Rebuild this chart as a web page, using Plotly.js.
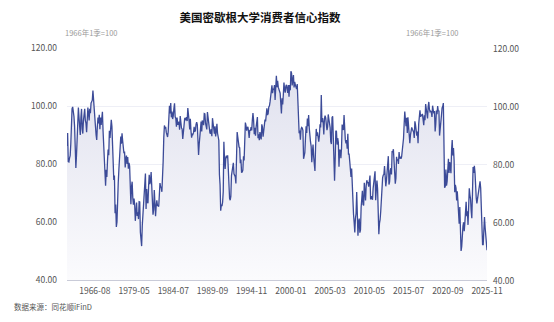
<!DOCTYPE html>
<html>
<head>
<meta charset="utf-8">
<script src="https://cdn.plot.ly/plotly-3.0.1.min.js"></script>
<style>html,body{margin:0;padding:0;background:#fff;}#chart{width:554px;height:322px;}</style>
</head>
<body>
<div id="chart"></div>
<script>
// ---- Data ----
const earlyDates = ["1952-11","1953-02","1953-08","1953-11","1954-02","1954-05","1954-11","1955-02","1955-05","1955-11",
  "1956-05","1956-11","1957-05","1957-11","1958-05","1958-11","1959-05","1959-11"];
// quarterly values 1952-11 .. 1977-11 (90 points)
const vEarly = [86.2,90.7,80.8,80.7,82.0,82.9,87.0,95.9,99.1,99.7,
  98.2,96.4,93.0,86.4,78.6,82.9,90.0,95.0,99.5,96.0,
  92.5,90.0,96.0,99.0,92.0,90.5,95.0,97.0,99.0,95.0,
  94.0,91.0,96.0,99.5,97.5,95.0,99.0,97.5,101.0,102.0,
  102.0,105.3,101.0,97.0,96.0,93.0,90.0,88.3,93.0,96.0,
  94.0,97.0,92.0,96.0,93.5,95.0,98.0,91.5,86.0,81.0,
  78.5,72.5,78.0,75.5,81.0,85.0,83.0,91.5,89.0,93.0,
  95.2,93.0,88.0,85.0,74.5,76.0,63.0,66.0,58.3,60.0,
  71.0,73.5,78.0,84.0,85.0,89.5,87.0,90.6,88.0,85.0];
const v1978_1989 = [83.7,84.3,78.8,81.6,82.9,80.0,82.4,78.4,80.4,79.3,75.0,66.1,
  72.1,73.9,68.4,66.0,68.1,65.8,60.4,64.5,66.7,62.1,63.3,61.0,
  67.0,66.9,56.5,52.7,51.7,58.7,62.3,67.3,73.7,75.0,76.7,64.5,
  71.4,66.9,66.5,72.4,76.3,73.1,74.1,77.2,73.1,70.3,62.5,64.3,
  71.0,66.5,62.0,65.5,67.5,65.7,65.4,65.4,69.3,73.4,72.1,71.9,
  70.4,74.6,80.8,89.1,93.3,92.2,92.8,90.9,89.9,89.3,91.1,94.2,
  100.1,97.4,101.0,96.1,98.1,95.5,96.6,99.1,100.9,96.3,95.7,92.9,
  96.0,93.7,93.7,94.6,91.8,96.5,94.0,92.4,92.1,88.6,90.9,93.9,
  95.6,95.9,95.1,96.2,94.8,99.3,97.7,94.9,91.9,95.6,91.4,89.1,
  90.4,90.2,90.8,92.8,91.1,91.5,93.7,94.4,93.6,89.3,83.1,86.8,
  90.8,91.6,94.6,91.2,94.8,94.7,93.4,97.4,97.3,94.1,93.0,91.9,
  97.9,95.4,94.3,91.5,90.7,90.6,92.0,89.6,95.8,93.9,90.9,90.5];
const v1990_1999 = [93.0,89.5,91.3,93.9,90.6,88.3,88.2,76.4,72.8,63.9,66.0,65.5,
  66.8,70.4,87.7,81.8,78.3,82.1,82.9,82.0,83.0,78.3,69.1,68.2,
  67.5,68.8,76.0,77.2,79.2,80.4,76.6,76.1,75.6,73.3,85.3,91.0,
  89.3,86.6,85.9,85.6,80.3,81.5,77.0,77.3,77.9,82.7,81.2,88.2,
  94.3,93.2,91.5,92.6,92.8,91.2,89.0,91.7,91.5,92.7,91.6,95.1,
  97.6,95.1,90.3,92.5,89.8,92.7,94.4,96.2,88.9,90.2,88.2,91.0,
  89.3,88.5,93.7,92.7,89.4,92.4,94.7,95.3,94.7,96.5,99.2,96.9,
  97.4,99.7,100.0,101.4,103.2,104.5,107.1,104.4,106.0,105.6,107.2,102.1,
  106.6,110.4,106.5,108.7,106.5,105.6,105.2,104.4,100.9,97.4,102.7,100.5,
  103.9,108.1,105.7,104.6,106.8,107.3,106.0,104.5,107.2,103.2,107.2,105.4];
const v2000_2009 = [112.0,111.3,107.1,109.2,110.7,106.4,108.3,107.3,106.8,105.8,107.6,98.4,
  94.7,90.6,91.5,88.4,92.0,92.6,92.4,91.5,81.8,82.7,83.9,88.8,
  93.0,90.7,95.7,93.0,96.9,92.4,88.1,87.6,86.1,80.6,84.2,86.7,
  82.4,79.9,77.6,86.0,92.1,89.7,90.9,89.3,87.7,89.6,93.7,92.6,
  103.8,94.4,95.8,94.2,90.2,95.6,96.7,95.9,94.2,91.7,92.8,97.1,
  95.5,94.1,92.6,87.7,86.9,96.0,96.5,89.1,76.9,74.2,81.6,91.5,
  91.2,86.7,88.9,87.4,79.1,84.9,84.7,82.0,85.4,93.6,92.1,91.7,
  96.9,91.3,88.4,87.1,88.3,85.3,90.4,83.4,83.4,80.9,76.1,75.5,
  78.4,70.8,69.5,62.6,59.8,56.4,61.2,63.0,70.3,57.6,55.3,60.1,
  61.2,56.3,57.3,65.1,68.7,70.8,66.0,65.7,73.5,70.6,67.4,72.5];
const v2010_2019 = [74.4,73.6,73.6,72.2,73.6,76.0,67.8,68.9,68.2,67.7,71.6,74.5,
  74.2,77.5,67.5,69.8,74.3,71.5,63.7,55.8,59.5,60.8,63.7,69.9,
  75.0,75.3,76.2,76.4,79.3,73.2,72.3,74.3,78.3,82.6,82.7,72.9,
  73.8,77.6,78.6,76.4,84.5,84.1,85.1,82.1,77.5,73.2,75.1,82.5,
  81.2,81.6,80.0,84.1,81.9,82.5,81.8,82.5,84.6,86.9,88.8,93.6,
  98.1,95.4,93.0,95.9,90.7,96.1,93.1,91.9,87.2,90.0,91.3,92.6,
  92.0,91.7,91.0,89.0,94.7,93.5,90.0,89.8,91.2,87.2,93.8,98.2,
  98.5,96.3,96.9,97.0,97.1,95.0,93.4,96.8,95.1,100.7,98.5,95.9,
  95.7,99.7,101.4,98.8,98.0,98.2,97.9,96.2,100.1,98.6,97.5,98.3,
  91.2,93.8,98.4,97.2,100.0,98.2,98.4,89.8,93.2,95.5,96.8,99.3];
const v2020_2025 = [99.8,101.0,89.1,71.8,72.3,78.1,72.5,74.1,80.4,81.8,76.9,80.7,
  79.0,76.8,84.9,88.3,82.9,85.5,81.2,70.3,72.8,71.7,67.4,70.6,
  67.2,62.8,59.4,65.2,58.4,50.0,51.5,58.2,58.6,59.9,56.8,59.7,
  64.9,67.0,62.0,63.7,59.0,64.4,71.6,69.4,67.9,63.8,61.3,69.7,
  79.0,76.9,79.4,77.2,69.1,68.2,66.4,67.9,70.1,70.5,71.8,74.0,
  71.7,64.7,57.0,52.2,52.2,60.7,61.7,58.2,55.1,53.6,50.3];
const xTickLabels = ["1966-08","1979-05","1984-07","1989-09","1994-11","2000-01","2005-03","2010-05","2015-07","2020-09","2025-11"];
const yTicks = [40,60,80,100,120];
const title = "美国密歇根大学消费者信心指数";
const unitText = "1966年1季=100";
const sourceText = "数据来源：同花顺iFinD";

// ---- Build category dates ----
const pad = n => (n < 10 ? "0" + n : "" + n);
const dates = earlyDates.slice();
for (let y = 1960; y <= 1977; y++) for (const m of [2,5,8,11]) dates.push(y + "-" + pad(m));
for (let y = 1978; y <= 2025; y++) for (let m = 1; m <= 12; m++) { if (y === 2025 && m > 11) break; dates.push(y + "-" + pad(m)); }
const values = [].concat(vEarly, v1978_1989, v1990_1999, v2000_2009, v2010_2019, v2020_2025);

const font = "Noto Sans CJK SC, Noto Sans, sans-serif";
const lineColor = "#3c4b98";

const traces = [
  {
    x: dates, y: values, type: "scatter", mode: "lines",
    line: {color: lineColor, width: 1.3},
    fill: "tozeroy",
    fillgradient: {type: "vertical", start: 40, stop: 112,
      colorscale: [[0, "#fbfbfd"], [1, "#e0e1ee"]]},
    hoverinfo: "x+y", showlegend: false
  },
  {
    x: dates, y: values, type: "scatter", mode: "lines", yaxis: "y2",
    line: {color: "rgba(0,0,0,0)", width: 0}, hoverinfo: "skip", showlegend: false
  }
];

const axisY = {
  range: [40, 120], tickvals: yTicks, tickformat: ".2f",
  tickfont: {family: font, size: 8.5, color: "#555"},
  ticks: "", zeroline: false, fixedrange: true
};

// plot area in pixels: x 67..487, y 48..280
const pxX = px => (px - 67) / 420;
const pxY = py => (280 - py) / 232;

const layout = {
  width: 554, height: 322,
  margin: {l: 67, r: 67, t: 48, b: 42},
  paper_bgcolor: "#fff", plot_bgcolor: "#fff",
  title: {text: "<b>" + title + "</b>", font: {family: font, size: 11.5, color: "#111"},
    x: 260/554, xanchor: "center", y: 1 - 18/322, yanchor: "middle"},
  xaxis: {
    type: "category", range: [0, dates.length - 1],
    tickmode: "array", tickvals: xTickLabels, ticktext: xTickLabels,
    tickfont: {family: font, size: 8.5, color: "#555"},
    showgrid: false, showline: true, linecolor: "#c9cbd8", linewidth: 1,
    ticks: "", zeroline: false, ticklabelstandoff: 3
  },
  yaxis: Object.assign({}, axisY, {showgrid: true, gridcolor: "#eeeff6", gridwidth: 1, showline: false, ticklabelstandoff: 9}),
  yaxis2: Object.assign({}, axisY, {overlaying: "y", side: "right", showgrid: false, showline: false, ticklabelstandoff: 5, ticklabelshift: 1}),
  annotations: [
    {text: unitText, xref: "paper", yref: "paper", x: pxX(63), y: pxY(33), xanchor: "left", yanchor: "middle",
      showarrow: false, font: {family: font, size: 7.5, color: "#9a9a9a"}},
    {text: unitText, xref: "paper", yref: "paper", x: pxX(460), y: pxY(33), xanchor: "right", yanchor: "middle",
      showarrow: false, font: {family: font, size: 7.5, color: "#9a9a9a"}},
    {text: sourceText, xref: "paper", yref: "paper", x: pxX(12), y: pxY(306), xanchor: "left", yanchor: "middle",
      showarrow: false, font: {family: font, size: 7.5, color: "#555"}}
  ]
};

Plotly.newPlot("chart", traces, layout, {displayModeBar: false, staticPlot: true});
</script>
</body>
</html>
